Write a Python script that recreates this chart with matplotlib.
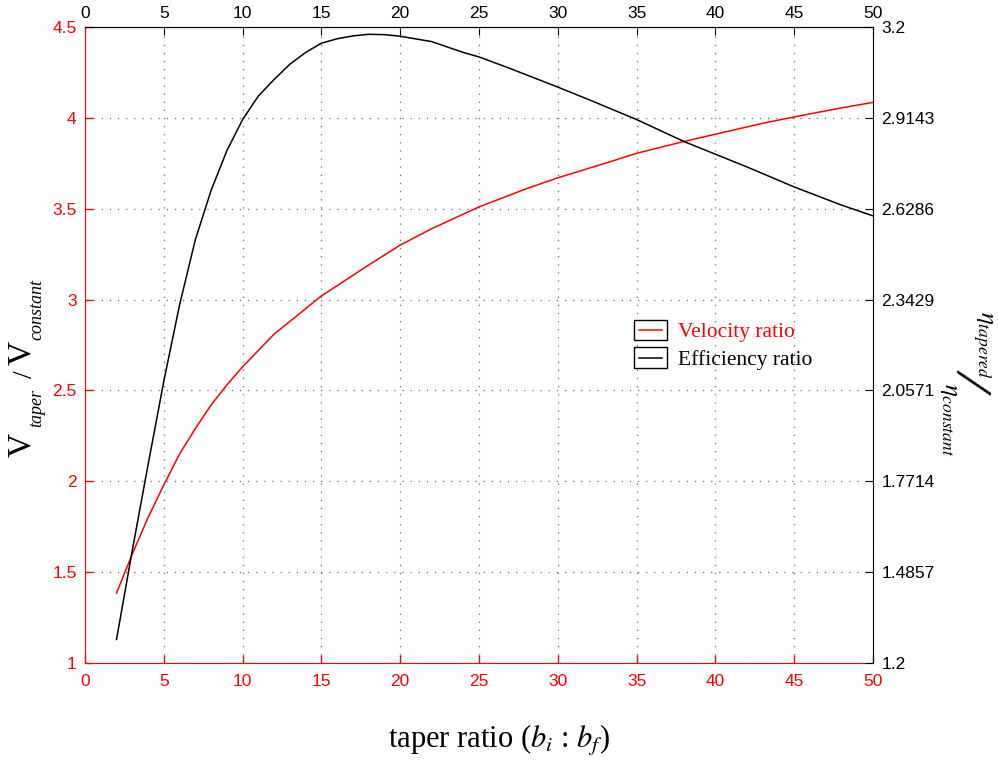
import numpy as np
import matplotlib
matplotlib.use("Agg")
import matplotlib.pyplot as plt
from matplotlib.patches import Rectangle
from matplotlib.lines import Line2D

plt.rcParams["font.family"] = ["Liberation Sans", "DejaVu Sans"]
plt.rcParams["mathtext.fontset"] = "stix"

# velocity ratio (left axis)
x_vel = [2, 3, 4, 5, 6, 7, 8, 9, 10, 12, 15, 18, 20, 22, 25, 28, 30, 33, 35, 38, 40, 43, 45, 48, 50]
vel_ratio = [1.385, 1.60, 1.80, 1.98, 2.15, 2.29, 2.42, 2.53, 2.63, 2.81, 3.02, 3.19, 3.30, 3.39,
             3.51, 3.61, 3.67, 3.75, 3.805, 3.87, 3.91, 3.97, 4.005, 4.055, 4.085]

# efficiency ratio (right axis)
x_eff = [2, 3, 4, 5, 6, 7, 8, 9, 10, 11, 12, 13, 14, 15, 16, 17, 18, 19, 20, 22, 24, 25, 27,
         30, 32, 35, 38, 40, 42, 45, 48, 50]
eff_ratio = [1.274, 1.554, 1.823, 2.086, 2.326, 2.531, 2.686, 2.811, 2.909, 2.983, 3.035, 3.083,
             3.120, 3.149, 3.163, 3.172, 3.177, 3.176, 3.171, 3.154, 3.120, 3.106, 3.069,
             3.011, 2.971, 2.909, 2.840, 2.800, 2.760, 2.697, 2.640, 2.606]

x_ticks = list(range(0, 51, 5))
left_ticks = [1, 1.5, 2, 2.5, 3, 3.5, 4, 4.5]
right_ticks = list(np.linspace(1.2, 3.2, 8))

W, H = 998, 762
fig = plt.figure(figsize=(W / 100, H / 100), dpi=100)
ax = fig.add_axes([85 / W, 1 - 663 / H, (873 - 85) / W, (663 - 27) / H])

ax.plot(x_vel, vel_ratio, color="#ff0000", lw=1.1)
ax.set_xlim(0, 50)
ax.set_ylim(1, 4.5)
ax.set_xticks(x_ticks)
ax.set_yticks(left_ticks)
ax.set_yticklabels([f"{v:g}" for v in left_ticks])
ax.grid(True, linestyle=(0, (1, 5.5)), color="#6a6a6a", lw=0.9)
ax.tick_params(direction="in", colors="#ff0000", length=6, labelsize=12.5, width=1)
ax.tick_params(axis="x", pad=8)
ax.tick_params(axis="y", pad=6)
for s in ["left", "bottom"]:
    ax.spines[s].set_color("#ff0000")
for s in ["top", "right"]:
    ax.spines[s].set_visible(False)

ax2 = ax.twinx()
ax2.plot(x_eff, eff_ratio, color="black", lw=1.1)
ax2.set_ylim(1.2, 3.2)
ax2.set_yticks(right_ticks)
ax2.set_yticklabels([f"{v:.5g}" for v in right_ticks])
ax2.tick_params(direction="in", colors="black", length=6, labelsize=12.5, pad=6)
ax2.spines["left"].set_visible(False)
ax2.spines["bottom"].set_visible(False)
ax2.spines["right"].set_color("black")
ax2.spines["top"].set_color("black")

top = ax.secondary_xaxis("top")
top.set_xticks(x_ticks)
top.tick_params(direction="in", colors="black", length=6, labelsize=12.5, pad=4)
top.spines["top"].set_color("black")


class BoxLine:
    def legend_artist(self, legend, orig_handle, fontsize, handlebox):
        x0, y0 = -handlebox.xdescent, -handlebox.ydescent
        w, h = handlebox.width, handlebox.height
        tr = handlebox.get_transform()
        rect = Rectangle((x0, y0), w, h, facecolor="white", edgecolor="black", lw=1, transform=tr)
        ln = Line2D([x0 + 0.15 * w, x0 + 0.85 * w], [y0 + h / 2] * 2,
                    color=orig_handle.get_color(), lw=1.1, transform=tr)
        handlebox.add_artist(rect)
        handlebox.add_artist(ln)
        return rect


h_vel = Line2D([], [], color="#ff0000")
h_eff = Line2D([], [], color="black")
leg = ax2.legend([h_vel, h_eff], ["Velocity ratio", "Efficiency ratio"],
                 handler_map={Line2D: BoxLine()},
                 loc="upper left", bbox_to_anchor=(634 / W, 1 - 320 / H),
                 bbox_transform=fig.transFigure, frameon=False, borderpad=0, borderaxespad=0,
                 handlelength=1.53, handleheight=1.07, handletextpad=0.5, labelspacing=0.23,
                 prop={"family": "Liberation Serif", "size": 15.5},
                 labelcolor=["#ff0000", "black"])

# x label
fig.text(0.5, 1 - 748 / H, r"taper ratio ($b_i$ : $b_f$)", family="Liberation Serif",
         fontsize=22, ha="center", va="baseline")

# left y label: V_taper / V_constant, pieced together
serif = "Liberation Serif"
fig.text(22 / W, 1 - 445 / H, "V", family=serif, fontsize=24, rotation=90, ha="center", va="center")
fig.text(37 / W, 1 - 408 / H, "taper", family=serif, style="italic", fontsize=13, rotation=90,
         ha="center", va="center")
fig.text(26 / W, 1 - 374 / H, "/", family=serif, fontsize=20, rotation=90, ha="center", va="center")
fig.text(22 / W, 1 - 353 / H, "V", family=serif, fontsize=24, rotation=90, ha="center", va="center")
fig.text(37 / W, 1 - 310 / H, "constant", family=serif, style="italic", fontsize=13, rotation=90,
         ha="center", va="center")

# right y label: eta_tapered / eta_constant
fig.text(983 / W, 1 - 345 / H, r"$\eta_{tapered}$", fontsize=18, rotation=-90,
         ha="center", va="center")
fig.text(969 / W, 1 - 381 / H, "/", family=serif, fontsize=42, rotation=-105,
         ha="center", va="center")
fig.text(950 / W, 1 - 420 / H, r"$\eta_{constant}$", fontsize=18, rotation=-90,
         ha="center", va="center")

fig.savefig("out.png", dpi=100)
